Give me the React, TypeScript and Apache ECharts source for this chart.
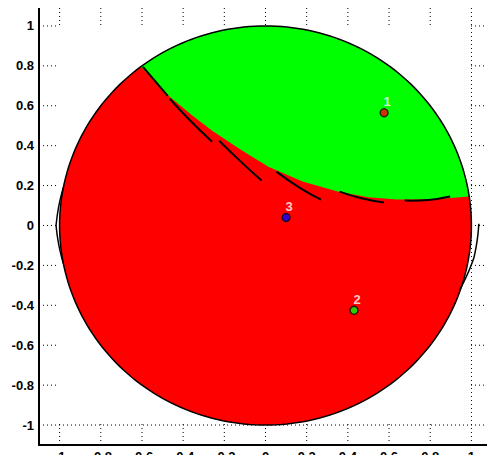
import React, { useEffect, useRef } from "react";
import * as echarts from "echarts";

// Tick values (both axes)
const tickValues = [-1, -0.8, -0.6, -0.4, -0.2, 0, 0.2, 0.4, 0.6, 0.8, 1];

// Green / red region boundary (from the left circle edge to the right circle edge)
const boundaryX = [-0.6, -0.53, -0.465, -0.36, -0.259, -0.12, 0.014, 0.18, 0.35, 0.5, 0.638, 0.82, 0.99];
const boundaryY = [0.79, 0.715, 0.645, 0.555, 0.475, 0.38, 0.295, 0.22, 0.17, 0.142, 0.13, 0.132, 0.145];

// Black dash segments along the boundary: start, middle, end
const segX = [
  [-0.595, -0.535, -0.475],
  [-0.465, -0.365, -0.259],
  [-0.225, -0.12, -0.019],
  [0.053, 0.165, 0.269],
  [0.36, 0.47, 0.576],
  [0.676, 0.79, 0.897],
];
const segY = [
  [0.795, 0.722, 0.65],
  [0.635, 0.525, 0.42],
  [0.425, 0.32, 0.225],
  [0.27, 0.19, 0.13],
  [0.17, 0.135, 0.115],
  [0.125, 0.128, 0.145],
];

// Offset pieces of the circle outline: angles (deg) and radii
const arcAngles = [
  [169, 180, 191],
  [0.5, -9, -19],
];
const arcRadii = [
  [1.0, 1.017, 1.0],
  [1.036, 1.025, 0.996],
];

// Points
const pointX = [0.576, 0.43, 0.1];
const pointY = [0.565, -0.425, 0.04];
const pointLabels = ["1", "2", "3"];
const pointColors = ["#ff0000", "#00ff00", "#0000ff"];

const RED = "#ff0000";
const GREEN = "#00ff00";
const FONT = "Liberation Sans, Arial, sans-serif";

export default function App() {
  const ref = useRef<HTMLDivElement>(null);

  useEffect(() => {
    if (!ref.current) return;
    const chart = echarts.init(ref.current, null, { renderer: "svg" });

    const renderItem = (params: any, api: any) => {
      const c = (x: number, y: number) => api.coord([x, y]);
      const children: any[] = [];
      const dotted = { stroke: "#000", lineWidth: 1, lineDash: [1, 3], fill: null };
      // grid lines
      for (const t of tickValues) {
        const a = c(t, -1.1), b = c(t, 1.1);
        children.push({ type: "line", shape: { x1: a[0], y1: a[1], x2: b[0], y2: b[1] }, style: dotted });
        const d = c(-1.1, t), e = c(1.1, t);
        children.push({ type: "line", shape: { x1: d[0], y1: d[1], x2: e[0], y2: e[1] }, style: dotted });
      }
      // white square covering [-1,1]^2 (leaving x=1 and y=-1 lines visible)
      const p1 = c(-1, 1), p2 = c(1, -1);
      children.push({
        type: "rect",
        shape: { x: p1[0] - 1, y: p1[1] - 1, width: p2[0] - p1[0], height: p2[1] - p1[1] },
        style: { fill: "#fff" },
      });
      // red disc
      const circ: number[][] = [];
      const N = 240;
      for (let i = 0; i < N; i++) {
        const a = (i / N) * Math.PI * 2;
        circ.push(c(Math.cos(a), Math.sin(a)));
      }
      children.push({ type: "polygon", shape: { points: circ }, style: { fill: RED } });
      // green cap
      const n = boundaryX.length;
      const a1 = Math.atan2(boundaryY[0], boundaryX[0]);
      const a2 = Math.atan2(boundaryY[n - 1], boundaryX[n - 1]);
      const green: number[][] = [];
      const M = 120;
      for (let i = 0; i <= M; i++) {
        const a = a1 + ((a2 - a1) * i) / M;
        green.push(c(Math.cos(a), Math.sin(a)));
      }
      for (let i = n - 1; i >= 0; i--) green.push(c(boundaryX[i], boundaryY[i]));
      children.push({ type: "polygon", shape: { points: green }, style: { fill: GREEN } });
      // circle outline
      children.push({
        type: "polygon",
        shape: { points: circ },
        style: { fill: null, stroke: "#000", lineWidth: 1.5 },
      });
      // offset outline pieces
      arcAngles.forEach((angs, k) => {
        const rads = arcRadii[k];
        const pts: number[][] = [];
        const K = 30;
        for (let i = 0; i <= K; i++) {
          const t = (i / K) * 2;
          const j = Math.min(1, Math.floor(t));
          const f = t - j;
          const ang = ((angs[j] + (angs[j + 1] - angs[j]) * f) * Math.PI) / 180;
          const r = rads[j] + (rads[j + 1] - rads[j]) * f;
          pts.push(c(r * Math.cos(ang), r * Math.sin(ang)));
        }
        children.push({
          type: "polyline",
          shape: { points: pts, smooth: 0.3 },
          style: { fill: null, stroke: "#000", lineWidth: 1.5 },
        });
      });
      // dash segments along the boundary
      segX.forEach((xs, k) => {
        const pts = xs.map((x, i) => c(x, segY[k][i]));
        children.push({
          type: "polyline",
          shape: { points: pts, smooth: 0.5 },
          style: { fill: null, stroke: "#000", lineWidth: 2 },
        });
      });
      return { type: "group", children };
    };

    const labelFmt = (v: number) => {
      const k = Math.round(v * 10);
      if (k % 2 !== 0 || Math.abs(k) > 10) return "";
      return String(k / 10);
    };

    const axisCommon = {
      type: "value" as const,
      min: -1.1,
      max: 1.1,
      interval: 0.1,
      axisLine: { show: false },
      axisTick: { show: false },
      splitLine: { show: false },
    };

    chart.setOption({
      animation: false,
      backgroundColor: "#fff",
      grid: {
        left: 39,
        top: 6,
        width: 459,
        height: 440,
        show: true,
        borderColor: "#000",
        borderWidth: 2,
        backgroundColor: "transparent",
      },
      xAxis: {
        ...axisCommon,
        axisLabel: {
          formatter: labelFmt,
          fontFamily: FONT,
          fontWeight: "bold",
          fontSize: 13,
          color: "#000",
          margin: 5,
          showMinLabel: true,
          showMaxLabel: true,
        },
      },
      yAxis: {
        ...axisCommon,
        axisLabel: {
          formatter: labelFmt,
          fontFamily: FONT,
          fontWeight: "bold",
          fontSize: 13,
          color: "#000",
          margin: 5,
        },
      },
      series: [
        {
          type: "custom",
          renderItem,
          data: [[0, 0]],
          clip: false,
          silent: true,
          z: 1,
        },
        {
          type: "scatter",
          z: 5,
          symbol: "circle",
          symbolSize: 8,
          data: pointX.map((x, i) => ({
            value: [x, pointY[i]],
            name: pointLabels[i],
            itemStyle: { color: pointColors[i], borderColor: "#000", borderWidth: 1.3 },
          })),
          label: {
            show: true,
            formatter: (p: any) => p.name,
            position: "top",
            distance: 0,
            offset: [3, 0],
            color: "#fff",
            fontWeight: "bold",
            fontSize: 13,
            fontFamily: FONT,
          },
        },
      ],
    });

    return () => chart.dispose();
  }, []);

  return <div ref={ref} style={{ width: 495, height: 463, margin: -8 }} />;
}
